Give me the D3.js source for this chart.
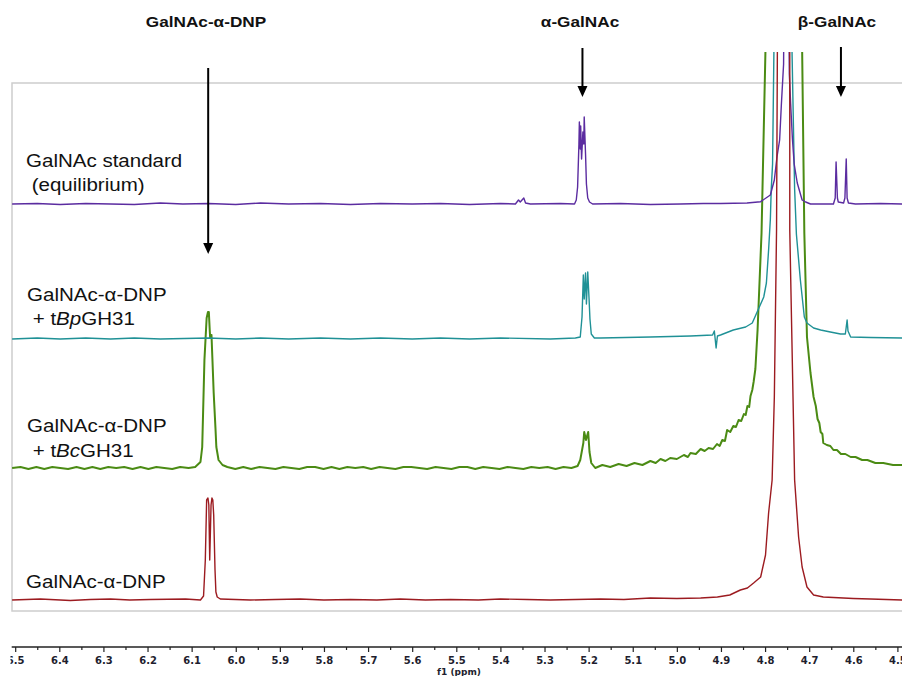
<!DOCTYPE html>
<html><head><meta charset="utf-8">
<script src="https://cdn.jsdelivr.net/npm/d3@7"></script>
<style>body{margin:0;background:#fff}svg{display:block}</style>
</head><body>
<svg id="c" width="902" height="676"></svg>
<script>
// ---- axis ticks (ppm) ----
const majorTicks = [6.5,6.4,6.3,6.2,6.1,6.0,5.9,5.8,5.7,5.6,5.5,5.4,5.3,5.2,5.1,5.0,4.9,4.8,4.7,4.6,4.5];
const tickLabels = ["6.5","6.4","6.3","6.2","6.1","6.0","5.9","5.8","5.7","5.6","5.5","5.4","5.3","5.2","5.1","5.0","4.9","4.8","4.7","4.6","4.5"];
const minorTicks = [6.45,6.35,6.25,6.15,6.05,5.95,5.85,5.75,5.65,5.55,5.45,5.35,5.25,5.15,5.05,4.95,4.85,4.75,4.65,4.55];
const axisTitle = "f1 (ppm)";

// ---- spectra: [ppm, intensity above own baseline] ----
const standardSpectrum = [ // GalNAc standard (equilibrium)
 [6.507,0],[6.450,0.5],[6.398,-0.5],[6.340,0.5],[6.284,0],[6.230,-0.5],[6.171,1],[6.120,0],[6.062,0.5],[6.000,-0.5],[5.944,1],[5.880,0],[5.808,0.5],[5.740,-0.5],[5.672,0.5],[5.600,0],[5.536,0.5],[5.470,-0.5],[5.400,0.5],
 [5.366,0],[5.359,4],[5.355,2],[5.347,6],[5.343,1],[5.332,0],[5.264,0.5],
 [5.232,0],[5.228,4],[5.225,17],[5.222,60],[5.221,82],[5.219,55],[5.218,78],[5.216,45],[5.213,72],[5.211,60],[5.210,87],[5.207,50],[5.205,20],[5.202,6],[5.198,2],[5.191,0],
 [5.128,0.5],[5.060,-0.5],[4.992,0],[4.940,0.5],[4.901,0.5],[4.841,1],[4.810,2.3],[4.788,9],[4.779,24],[4.773,47],[4.767,64],[4.763,100],[4.758,140],[4.756,300],
 [4.748,300],[4.745,130],[4.742,100],[4.738,65],[4.734,40],[4.727,21],[4.716,4],[4.708,2],[4.697,0],
 [4.645,0],[4.641,6],[4.639,42],[4.636,6],[4.634,2],[4.622,1],[4.619,6],[4.616,45],[4.614,6],[4.611,1],[4.595,0],[4.538,0.5],[4.488,0]
];
const bpSpectrum = [ // GalNAc-α-DNP + tBpGH31
 [6.507,0],[6.450,1],[6.398,0],[6.340,1],[6.284,0],[6.230,1],[6.171,0],[6.062,1],[6.000,0],[5.944,1],[5.880,0],[5.808,1],[5.740,0],[5.672,1],[5.600,0],[5.536,1],[5.470,0],[5.400,1],[5.287,0],[5.230,1],
 [5.219,2],[5.215,22],[5.212,64],[5.210,40],[5.207,66],[5.205,35],[5.202,67],[5.199,40],[5.197,20],[5.194,5],[5.187,1],
 [5.173,1],[5.060,2],[4.969,3],[4.919,4],[4.915,8],[4.911,-9],[4.908,3],[4.901,4],[4.872,9],[4.844,12],[4.829,16],[4.814,31],[4.803,42],[4.797,56],[4.792,89],[4.788,120],[4.786,150],[4.783,175],[4.780,286],[4.779,500],
 [4.740,500],[4.739,290],[4.733,150],[4.729,105],[4.720,59],[4.711,22],[4.705,16],[4.690,11],[4.674,9],[4.652,7],[4.629,5],[4.618,5],[4.614,19],[4.612,8],[4.606,2],[4.561,1.5],[4.488,1]
];
const bcSpectrum = [ // GalNAc-α-DNP + tBcGH31
 [6.507,0],[6.488,1],[6.470,-1],[6.452,1],[6.434,-1],[6.416,1],[6.398,0],[6.380,-1],[6.361,1],[6.343,-1],[6.325,1],[6.307,-1],[6.289,1],[6.271,0],[6.253,1],[6.234,-1],[6.216,1],[6.198,-1],[6.180,1],[6.162,0],[6.144,-1],[6.126,1],[6.107,0],[6.092,1],
 [6.080,6],[6.076,21],[6.071,108],[6.066,150],[6.063,156],[6.061,156],[6.059,138],[6.058,130],[6.055,133],[6.053,110],[6.050,75],[6.046,40],[6.044,21],[6.039,8],[6.030,3],[6.019,1],
 [6.001,-1],[5.983,1],[5.965,-1],[5.946,1],[5.928,0],[5.910,-1],[5.892,1],[5.874,0],[5.856,-1],[5.838,1],[5.820,1],[5.801,-1],[5.783,1],[5.765,-1],[5.747,1],[5.729,0],[5.711,1],[5.693,-1],[5.674,1],[5.656,0],[5.638,-1],[5.620,1],[5.602,1],[5.584,0],[5.566,-1],[5.547,1],[5.529,0],[5.511,-1],[5.493,1],[5.475,1],[5.457,-1],[5.439,1],[5.420,0],[5.402,-1],[5.384,1],[5.366,0],[5.348,-1],[5.330,1],[5.312,0],[5.293,1],[5.275,-1],[5.257,1],[5.239,0],[5.225,2],
 [5.219,8],[5.212,25],[5.210,36],[5.206,28],[5.201,36],[5.198,16],[5.194,5],[5.185,0],
 [5.169,3],[5.151,1],[5.132,4],[5.114,2],[5.096,5],[5.078,3],[5.060,7],[5.048,5],[5.037,9],[5.026,7],[5.015,10],[5.000,9],[4.984,13],[4.975,11],[4.969,15],[4.957,14],[4.946,19],[4.937,17],[4.928,20],[4.918,19],[4.909,24],[4.903,22],[4.897,28],[4.891,27],[4.886,38],[4.879,36],[4.872,42],[4.866,41],[4.860,48],[4.854,47],[4.848,54],[4.844,53],[4.840,62],[4.836,61],[4.833,72],[4.829,78],[4.826,86],[4.822,99],[4.817,138],[4.808,235],[4.799,420],[4.797,700],
 [4.719,700],[4.716,420],[4.711,235],[4.705,131],[4.697,95],[4.690,71],[4.685,62],[4.681,49],[4.677,45],[4.674,36],[4.670,34],[4.668,25],[4.660,23],[4.652,22],[4.645,18],[4.637,18],[4.628,14],[4.618,14],[4.606,11],[4.595,11],[4.580,8],[4.568,8],[4.550,5],[4.532,5],[4.510,3],[4.488,3]
];
const dnpSpectrum = [ // GalNAc-α-DNP
 [6.507,0],[6.443,1],[6.375,-0.5],[6.330,0.5],[6.284,1],[6.240,0],[6.194,0.5],[6.114,1],[6.080,0],
 [6.073,4],[6.069,40],[6.066,100],[6.063,102],[6.061,95],[6.059,40],[6.056,95],[6.054,102],[6.052,100],[6.050,85],[6.047,30],[6.045,8],[6.042,3],[6.035,1],
 [5.967,0],[5.910,0.5],[5.854,1],[5.800,0],[5.740,0.5],[5.680,0],[5.627,1],[5.570,0],[5.513,0.5],[5.450,0],[5.400,1],[5.340,0.5],[5.287,0],[5.230,0.5],[5.173,1],[5.120,0.5],[5.060,2],[5.000,1.5],[4.946,2],[4.908,3],[4.880,5],[4.856,10],[4.840,12],[4.826,17],[4.810,23],[4.799,45],[4.792,87],[4.784,120],[4.779,203],[4.774,370],[4.772,560],[4.771,900],
 [4.746,900],[4.744,560],[4.744,370],[4.733,120],[4.724,63],[4.716,33],[4.705,13],[4.690,5],[4.668,3],[4.645,2.5],[4.600,1.5],[4.561,1],[4.488,0]
];

// ---- labels ----
const peakLabels = ["GalNAc-α-DNP","α-GalNAc","β-GalNAc"];
const arrowPpm = [6.0625, 5.214, 4.628];

const svg = d3.select("#c");
const x = d3.scaleLinear().domain([6.5,4.5]).range([15.2,897.4]);
const y = d3.scaleLinear().domain([0,560]).range([612,52]);

// frame
svg.append("rect").attr("x",12).attr("y",83).attr("width",905).attr("height",528)
  .attr("fill","none").attr("stroke","#cdcdcd").attr("stroke-width",1.5);

const defs = svg.append("defs");
defs.append("clipPath").attr("id","plotClip").append("rect")
  .attr("x",12).attr("y",52).attr("width",890).attr("height",562);
defs.append("clipPath").attr("id","axisClip").append("rect")
  .attr("x",10.5).attr("y",-10).attr("width",892).attr("height",50);

const series = [
  {data: bcSpectrum, base: 144, color: "#4b8b14", w: 2.0},
  {data: bpSpectrum, base: 273, color: "#1f9196", w: 1.4},
  {data: standardSpectrum, base: 408, color: "#5b2ca0", w: 1.4},
  {data: dnpSpectrum, base: 12, color: "#9c1b20", w: 1.4}
];
const gPlot = svg.append("g").attr("clip-path","url(#plotClip)");
series.forEach(s => {
  const line = d3.line().x(d => x(d[0])).y(d => y(d[1] + s.base));
  gPlot.append("path").datum(s.data).attr("d", line)
    .attr("fill","none").attr("stroke", s.color).attr("stroke-width", s.w)
    .attr("stroke-linejoin","round");
});

// axis
const gAxis = svg.append("g").attr("transform","translate(0,647)").attr("clip-path","url(#axisClip)");
gAxis.append("line").attr("x1",11.7).attr("x2",902).attr("y1",0).attr("y2",0)
  .attr("stroke","#222").attr("stroke-width",1.3);
const axMajor = d3.axisBottom(x).tickValues(majorTicks).tickSize(5).tickPadding(5)
  .tickFormat((d,i) => tickLabels[i]);
const axMinor = d3.axisBottom(x).tickValues(minorTicks).tickSize(3).tickFormat("");
const gMaj = gAxis.append("g").call(axMajor);
const gMin = gAxis.append("g").call(axMinor);
[gMaj, gMin].forEach(g => { g.select(".domain").remove(); g.selectAll(".tick line").attr("stroke","#222").attr("stroke-width",1.2); });
gMaj.selectAll("text").attr("font-family","DejaVu Sans").attr("font-size",10).attr("font-weight","bold").attr("fill","#1e1e2e");
svg.append("text").attr("x",459).attr("y",675).attr("text-anchor","middle")
  .attr("font-family","DejaVu Sans").attr("font-size",9).attr("font-weight","bold").attr("fill","#1e1e2e").text(axisTitle);

// spectrum labels (left)
function stretchedText(px, py, parts, size, weight, anchor) {
  const g = svg.append("g").attr("transform", `translate(${px},${py}) scale(1.11,1)`);
  const t = g.append("text").attr("x",0).attr("y",0)
    .attr("font-family","Liberation Sans, Arial, sans-serif").attr("font-size",size)
    .attr("font-weight",weight).attr("fill","#111").attr("text-anchor",anchor || "start")
    .attr("xml:space","preserve");
  parts.forEach(p => t.append("tspan").attr("font-style", p[1] ? "italic" : "normal").text(p[0]));
}
stretchedText(26,167,[["GalNAc standard",false]],18.5,"normal");
stretchedText(26,191,[[" (equilibrium)",false]],18.5,"normal");
stretchedText(27,301,[["GalNAc-α-DNP",false]],18.5,"normal");
stretchedText(27,325,[[" + t",false],["Bp",true],["GH31",false]],18.5,"normal");
stretchedText(27,432,[["GalNAc-α-DNP",false]],18.5,"normal");
stretchedText(27,457,[[" + t",false],["Bc",true],["GH31",false]],18.5,"normal");
stretchedText(26,588,[["GalNAc-α-DNP",false]],18.5,"normal");

// peak labels + arrows
const labelX = [206, 580, 837];
const arrowTop = [68, 48, 47];
const arrowTip = [254, 97, 97];
peakLabels.forEach((lab,i) => {
  stretchedText(labelX[i], 27, [[lab,false]], 15.5, "bold", "middle");
  const ax = x(arrowPpm[i]);
  svg.append("line").attr("x1",ax).attr("x2",ax).attr("y1",arrowTop[i]).attr("y2",arrowTip[i]-8)
    .attr("stroke","#000").attr("stroke-width",2);
  svg.append("path").attr("d",`M${ax-5},${arrowTip[i]-11}L${ax+5},${arrowTip[i]-11}L${ax},${arrowTip[i]}Z`)
    .attr("fill","#000");
});
</script>
</body></html>
